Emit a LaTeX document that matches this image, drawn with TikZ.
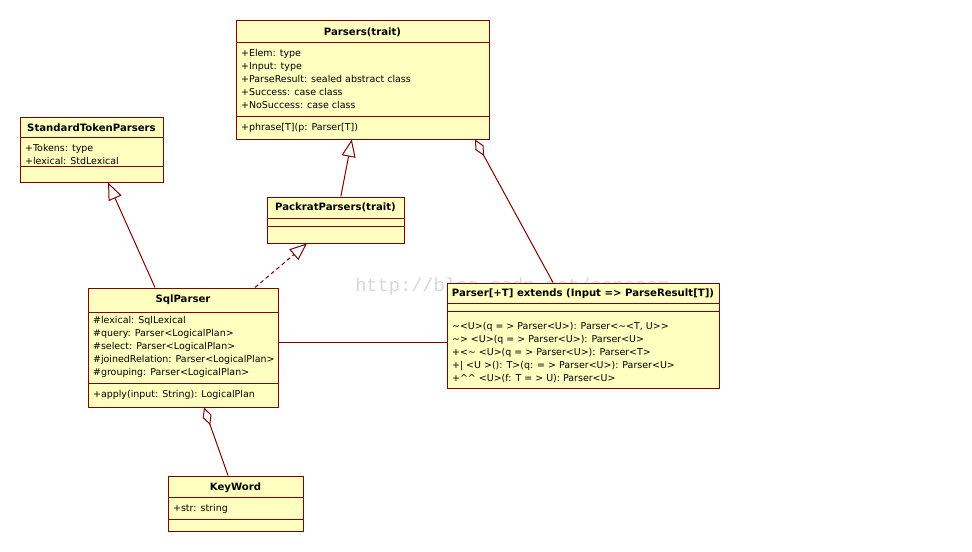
\documentclass[tikz,border=0pt]{standalone}
\usepackage{fontspec}
\setmainfont{DejaVu Sans}
\setmonofont{Liberation Mono}
\usetikzlibrary{arrows.meta,positioning,fit,calc}
\definecolor{umlline}{HTML}{800000}
\definecolor{umlfill}{HTML}{FFFFC0}
\definecolor{wmk}{HTML}{D8D8D8}
\newcommand{\divline}[2]{\draw[sep] ($(#1.north west)+(0,#2)$) -- ($(#1.north east)+(0,#2)$);}
\newcommand{\gtgt}{>\kern0pt>}
\tikzset{
  cls/.style={draw=umlline,fill=umlfill,line width=0.75pt,inner sep=0pt},
  sep/.style={draw=umlline,line width=0.75pt},
  hdr/.style={font=\fontsize{7.6}{9}\selectfont\bfseries,inner sep=0pt},
  mem/.style={anchor=north west,align=left,inner xsep=2.5pt,inner ysep=5pt,font=\fontsize{7.1}{9.75}\selectfont},
  wmark/.style={anchor=west,inner sep=0pt,text=wmk,font=\ttfamily\fontsize{14}{14}\selectfont},
  gen/.style={-{Triangle[open,length=13pt,width=10.5pt]},draw=umlline,line width=0.75pt},
  real/.style={gen,dash pattern=on 3pt off 2.25pt},
  agg/.style={{Diamond[open,length=14pt,width=7pt]}-,draw=umlline,line width=0.75pt},
  assoc/.style={draw=umlline,line width=0.75pt},
}
\begin{document}
\begin{tikzpicture}[x=0.75pt,y=-0.75pt]
\useasboundingbox (0,0) rectangle (972,551);
\node[wmark] (wm) at (355,287) {http://blog.csdn.net/oopsoom};

% classes
\node[cls,fit={(236,20) (489,139)}] (parsers) {};
\divline{parsers}{23}
\divline{parsers}{97}
\node[hdr] (parsers-h) at ($(parsers.north)+(0,12.5)$) {Parsers(trait)};
\node[mem] (parsers-a) at ($(parsers.north west)+(2,23)$) {+Elem: type\\+Input: type\\+ParseResult: sealed abstract class\\+Success: case class\\+NoSuccess: case class};
\node[mem] (parsers-o) at ($(parsers.north west)+(2,97)$) {+phrase[T](p: Parser[T])};

\node[cls,fit={(20,117) (163,182)}] (stdtok) {};
\divline{stdtok}{21}
\divline{stdtok}{50}
\node[hdr] (stdtok-h) at ($(stdtok.north)+(0,11)$) {StandardTokenParsers};
\node[mem] (stdtok-a) at ($(stdtok.north west)+(2,21)$) {+Tokens: type\\+lexical: StdLexical};

\node[cls,fit={(267,197) (404,243)}] (packrat) {};
\divline{packrat}{22}
\divline{packrat}{30}
\node[hdr] (packrat-h) at ($(packrat.north)+(0,11)$) {PackratParsers(trait)};

\node[cls,fit={(88,288) (278,407)}] (sqlp) {};
\divline{sqlp}{25}
\divline{sqlp}{96}
\node[hdr] (sqlp-h) at ($(sqlp.north)+(0,12.5)$) {SqlParser};
\node[mem] (sqlp-a) at ($(sqlp.north west)+(2,22)$) {\#lexical: SqlLexical\\\#query: Parser<LogicalPlan>\\\#select: Parser<LogicalPlan>\\\#joinedRelation: Parser<LogicalPlan>\\\#grouping: Parser<LogicalPlan>};
\node[mem] (sqlp-o) at ($(sqlp.north west)+(2,96)$) {+apply(input: String): LogicalPlan};

\node[cls,fit={(447,283) (719,388)}] (parser) {};
\divline{parser}{21}
\divline{parser}{29}
\node[hdr] (parser-h) at ($(parser.north)+(0,11.5)$) {Parser[+T] extends (Input => ParseResult[T])};
\node[mem] (parser-o) at ($(parser.north west)+(2,33)$) {\textasciitilde<U>(q = > Parser<U>): Parser<\textasciitilde<T, U\gtgt\\\textasciitilde> <U>(q = > Parser<U>): Parser<U>\\+<\textasciitilde{} <U>(q = > Parser<U>): Parser<T>\\+| <U >(): T>(q: = > Parser<U>): Parser<U>\\+\textasciicircum\textasciicircum{} <U>(f: T = > U): Parser<U>};

\node[cls,fit={(168,476) (303,531)}] (keyword) {};
\divline{keyword}{22}
\divline{keyword}{44}
\node[hdr] (keyword-h) at ($(keyword.north)+(0,12.5)$) {KeyWord};
\node[mem] (keyword-a) at ($(keyword.north west)+(2,22)$) {+str: string};

% relations
\draw[gen] ([xshift=4pt]packrat.north) -- ([xshift=-8pt]parsers.south);
\draw[gen] ([xshift=-21pt]sqlp.north) -- ([xshift=12.4pt]stdtok.south);
\draw[real] ([xshift=54pt]sqlp.north) -- ([xshift=-21.4pt]packrat.south);
\draw[agg] ([xshift=84.4pt]parsers.south) -- ([xshift=-22.5pt]parser.north);
\draw[assoc] ([yshift=3.4pt]sqlp.east) -- ([yshift=3.4pt]sqlp.east -| parser.west);
\draw[agg] ([xshift=15.75pt]sqlp.south) -- ([xshift=-5.6pt]keyword.north);
\end{tikzpicture}
\end{document}
